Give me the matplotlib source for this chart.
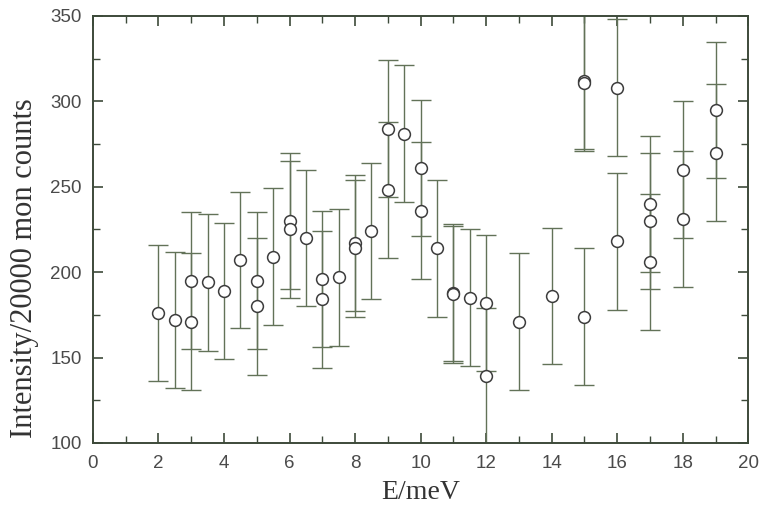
"""
Scanned-style intensity vs energy plot with error bars.
"""

import matplotlib
matplotlib.use("Agg")
import matplotlib.pyplot as plt
from matplotlib.ticker import MultipleLocator

# ── Data ────────────────────────────────────────────────────────────────────
energy = [2, 2.5, 3, 3, 3.5, 4, 4.5, 5, 5, 5.5, 6, 6, 6.5, 7, 7, 7.5,
          8, 8, 8.5, 9, 9, 9.5, 10, 10, 10.5, 11, 11, 11.5, 12, 12,
          13, 14, 15, 15, 15, 16, 16, 17, 17, 17, 18, 18, 19, 19]
intensity = [176, 172, 195, 171, 194, 189, 207, 195, 180, 209, 230, 225, 220, 196, 184, 197,
             217, 214, 224, 284, 248, 281, 261, 236, 214, 188, 187, 185, 182, 139,
             171, 186, 312, 311, 174, 308, 218, 240, 230, 206, 260, 231, 295, 270]
error = [40] * len(energy)

xticks = [0, 2, 4, 6, 8, 10, 12, 14, 16, 18, 20]
yticks = [100, 150, 200, 250, 300, 350]

bar_color = "#627258"
ring_color = "#3c3c3c"
axis_color = "#3d4a3a"

fig = plt.figure(figsize=(7.62, 5.15), dpi=100)
ax = fig.add_axes([0.122, 0.14, 0.86, 0.829])

ax.errorbar(energy, intensity, yerr=error, fmt="none", ecolor=bar_color,
            elinewidth=1.0, capsize=7, capthick=1.0, zorder=2)
ax.plot(energy, intensity, "o", ms=8.5, mfc="white", mec=ring_color, mew=1.1,
        linestyle="none", zorder=3)

ax.set_xlim(0, 20)
ax.set_ylim(100, 350)
ax.set_xticks(xticks)
ax.set_yticks(yticks)
ax.xaxis.set_minor_locator(MultipleLocator(1))
ax.yaxis.set_minor_locator(MultipleLocator(25))

ax.tick_params(which="both", direction="in", top=True, right=True,
               color=axis_color, labelcolor="#4a4a4a")
ax.tick_params(which="major", length=7, width=1.2, labelsize=13.5)
ax.tick_params(axis="x", which="major", pad=9)
ax.tick_params(axis="y", which="major", pad=8)
ax.tick_params(which="minor", length=5, width=1.0)
for lbl in ax.get_xticklabels() + ax.get_yticklabels():
    lbl.set_family("Liberation Sans")

for sp in ax.spines.values():
    sp.set_color(axis_color)
    sp.set_linewidth(1.4)

ax.set_xlabel("E/meV", family="Liberation Serif", fontsize=20,
              color="#333333")
ax.set_ylabel("Intensity/20000 mon counts", family="Liberation Serif",
              fontsize=22, color="#333333")
ax.xaxis.set_label_coords(0.5, -0.088)
ax.yaxis.set_label_coords(-0.082, 0.41)

fig.savefig("out.png", dpi=100)
plt.close(fig)
